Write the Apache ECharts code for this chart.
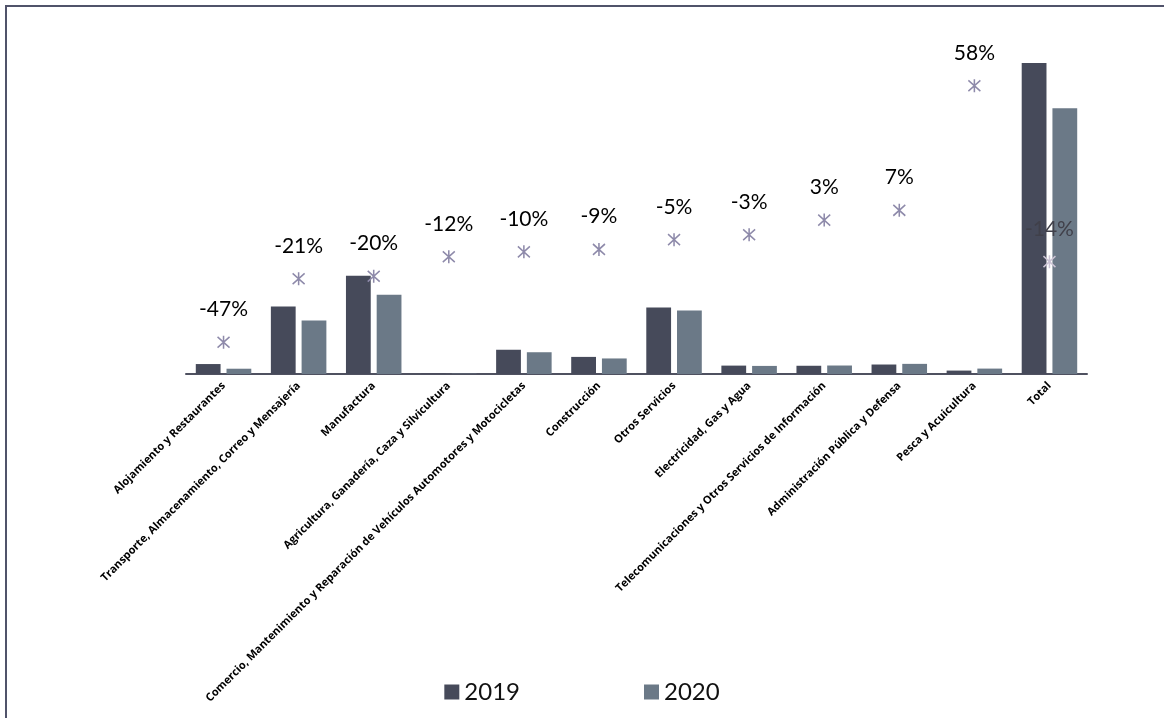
<!DOCTYPE html>
<html>
<head>
<meta charset="utf-8">
<script src="https://cdn.jsdelivr.net/npm/echarts@6/dist/echarts.min.js"></script>
<style>
html,body{margin:0;padding:0;background:#fff;}
#chart{width:1164px;height:718px;}
</style>
</head>
<body>
<div id="chart"></div>
<script>
const categories = [
  "Alojamiento y Restaurantes",
  "Transporte, Almacenamiento, Correo y Mensajería",
  "Manufactura",
  "Agricultura, Ganadería, Caza y Silvicultura",
  "Comercio, Mantenimiento y Reparación de Vehículos Automotores y Motocicletas",
  "Construcción",
  "Otros Servicios",
  "Electricidad, Gas y Agua",
  "Telecomunicaciones y Otros Servicios de Información",
  "Administración Pública y Defensa",
  "Pesca y Acuicultura",
  "Total"
];
const values2019 = [32, 217, 316, 1.2, 78, 55, 214, 27, 26.5, 30.5, 11, 1000];
const values2020 = [17, 172, 255, 1.1, 70, 50, 204, 26, 27.3, 32.6, 17.4, 855];
const pctChange = [-47, -21, -20, -12, -10, -9, -5, -3, 3, 7, 58, -14];
const seriesNames = ["2019", "2020"];

const chart = echarts.init(document.getElementById('chart'), null, {renderer: 'canvas'});

const starPath = 'path://M0,1 L10,11 M0,11 L10,1 M5,0 L5,12';

const pctData = pctChange.map((v, i) => {
  if (categories[i] === 'Total') {
    return {
      value: v,
      itemStyle: {borderColor: '#cbc3d4'},
      label: {color: '#40404a'}
    };
  }
  return v;
});

chart.setOption({
  backgroundColor: '#ffffff',
  animation: false,
  textStyle: {fontFamily: 'Lato, "Open Sans", sans-serif'},
  grid: {left: 186, right: 77, top: 32, bottom: 344, containLabel: false},
  legend: {
    data: seriesNames,
    left: 'center',
    top: 675,
    icon: 'rect',
    itemWidth: 15,
    itemHeight: 15,
    itemGap: 124,
    textStyle: {fontSize: 24, color: '#111', fontFamily: 'Lato, sans-serif'}
  },
  xAxis: {
    type: 'category',
    data: categories,
    axisLine: {show: true, lineStyle: {color: '#4f5160', width: 2}},
    axisTick: {show: false},
    axisLabel: {
      interval: 0,
      rotate: 45,
      margin: 10,
      fontSize: 11,
      fontWeight: 'bold',
      color: '#000',
      fontFamily: '"Open Sans", sans-serif'
    }
  },
  yAxis: [
    {type: 'value', min: 0, max: 1100, show: false, splitLine: {show: false}},
    {type: 'value', min: -60, max: 80, show: false, splitLine: {show: false}}
  ],
  series: [
    {
      name: seriesNames[0],
      type: 'bar',
      data: values2019,
      barWidth: '33%',
      barGap: '24%',
      itemStyle: {color: '#464a5a'}
    },
    {
      name: seriesNames[1],
      type: 'bar',
      data: values2020,
      barWidth: '33%',
      itemStyle: {color: '#6b7987'}
    },
    {
      name: 'Variación',
      type: 'line',
      yAxisIndex: 1,
      data: pctData,
      symbol: starPath,
      symbolSize: [12, 13],
      lineStyle: {opacity: 0, width: 0},
      itemStyle: {color: 'rgba(0,0,0,0)', borderColor: '#8e8aaa', borderWidth: 1.6},
      z: 5,
      label: {
        show: true,
        position: 'top',
        distance: 15,
        formatter: '{c}%',
        fontSize: 21,
        color: '#000',
        fontFamily: 'Lato, sans-serif'
      }
    }
  ],
  graphic: [
    {type: 'line', shape: {x1: 6, y1: 5, x2: 6, y2: 718}, style: {stroke: '#50536a', lineWidth: 2}},
    {type: 'line', shape: {x1: 5, y1: 6, x2: 1164, y2: 6}, style: {stroke: '#50536a', lineWidth: 2}}
  ]
});
</script>
</body>
</html>
